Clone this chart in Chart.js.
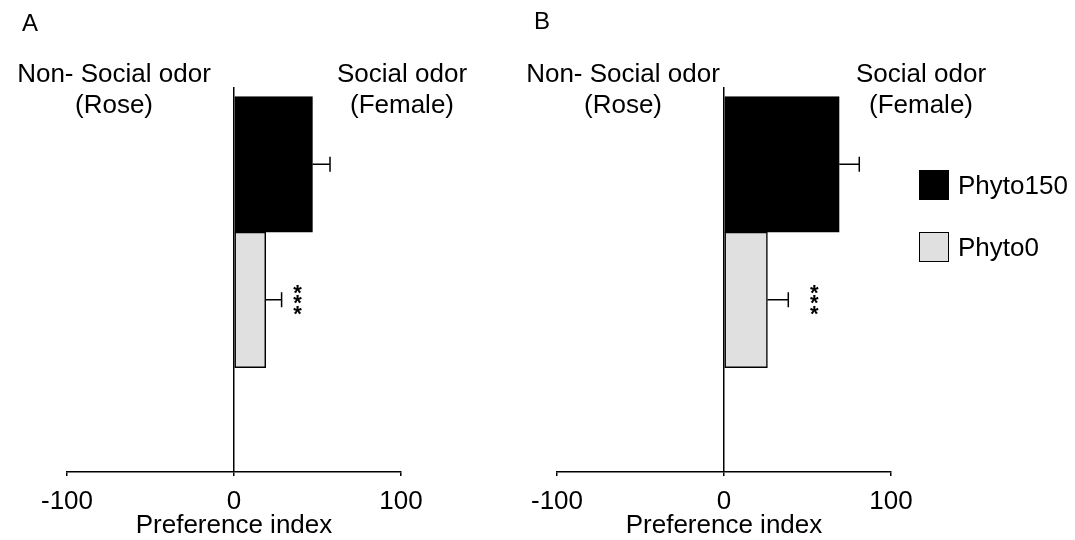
<!DOCTYPE html>
<html>
<head>
<meta charset="utf-8">
<script src="https://cdn.jsdelivr.net/npm/chart.js@4.4.1/dist/chart.umd.min.js"></script>
<style>
  html, body { margin: 0; padding: 0; background: #fff; }
  body { width: 1075px; height: 540px; position: relative; overflow: hidden;
         font-family: 'Liberation Sans', Arial, Helvetica, sans-serif; color: #000; }
  .box { position: absolute; top: 0; height: 540px; }
  .letter { position: absolute; font-size: 24px; line-height: 31px; }
  .head { position: absolute; font-size: 26px; line-height: 31px; text-align: center;
          white-space: nowrap; transform: translateX(-50%); }
  .item { position: absolute; left: 919px; height: 30px; display: flex; align-items: center; }
  .swatch { width: 30px; height: 30px; box-sizing: border-box; border: 1.5px solid #000; }
  .item span { font-size: 26px; margin-left: 9px; }
</style>
</head>
<body>
<div class="box" style="left:0;width:490px"><canvas id="chartA"></canvas></div>
<div class="box" style="left:490px;width:585px"><canvas id="chartB"></canvas></div>

<div class="letter" style="left:22px;top:7px">A</div>
<div class="letter" style="left:534px;top:5px">B</div>
<div class="head" style="left:114px;top:58px">Non- Social odor<br>(Rose)</div>
<div class="head" style="left:402px;top:58px">Social odor<br>(Female)</div>
<div class="head" style="left:623px;top:58px">Non- Social odor<br>(Rose)</div>
<div class="head" style="left:921px;top:58px">Social odor<br>(Female)</div>
<div id="legend"></div>

<script>
// values
const categories = ['Phyto150', 'Phyto0'];
const meansA = [47, 19];
const errorsA = [10.5, 9.5];
const meansB = [69, 26];
const errorsB = [12, 12.5];
const significance = ['', '***'];
const xTicks = [-100, 0, 100];
const barColors = ['#000000', '#e0e0e0'];

const FONT = "'Liberation Sans', Arial, Helvetica, sans-serif";
// vertical layout of the hidden bar axis (in bar heights)
const BAR_SHIFT = 0.57;
const Y_MAX = 2.84;

const errorBars = {
  id: 'errorBars',
  afterDatasetsDraw(chart, args, opts) {
    const ctx = chart.ctx;
    const x = chart.scales.x;
    const ds = chart.data.datasets[0];
    const meta = chart.getDatasetMeta(0);
    ctx.save();
    ctx.strokeStyle = '#000';
    ctx.lineWidth = 1.5;
    meta.data.forEach((bar, i) => {
      const end = x.getPixelForValue(ds.data[i].x + ds.errors[i]);
      const y = bar.y;
      ctx.beginPath();
      ctx.moveTo(bar.x, y);
      ctx.lineTo(end, y);
      ctx.moveTo(end, y - 7.5);
      ctx.lineTo(end, y + 7.5);
      ctx.stroke();
      const mark = ds.marks[i];
      if (mark) {
        ctx.fillStyle = '#000';
        ctx.font = 'bold 22px ' + FONT;
        ctx.textAlign = 'center';
        ctx.textBaseline = 'alphabetic';
        const m = ctx.measureText('*');
        const shift = (m.actualBoundingBoxAscent - m.actualBoundingBoxDescent) / 2;
        const n = mark.length;
        for (let k = 0; k < n; k++) {
          const cy = y + (k - (n - 1) / 2) * 10.5;
          ctx.fillText('*', end + opts.gap, cy + shift);
        }
      }
    });
    ctx.restore();
  }
};

function makeChart(id, means, errors, rightPad, gap) {
  return new Chart(document.getElementById(id), {
    type: 'bar',
    data: {
      datasets: [{
        data: means.map((v, i) => ({ x: v, y: i + BAR_SHIFT })),
        errors: errors,
        marks: significance,
        backgroundColor: barColors,
        borderColor: '#000',
        borderWidth: 1.5,
        borderSkipped: false,
        barPercentage: 1,
        categoryPercentage: 1,
        grouped: false
      }]
    },
    options: {
      indexAxis: 'y',
      responsive: true,
      maintainAspectRatio: false,
      animation: false,
      layout: { padding: { left: 67, right: rightPad, top: 87, bottom: 0 } },
      plugins: {
        legend: { display: false },
        tooltip: { enabled: false },
        errorBars: { gap: gap }
      },
      scales: {
        x: {
          type: 'linear',
          min: xTicks[0],
          max: xTicks[xTicks.length - 1],
          afterBuildTicks: s => { s.ticks = xTicks.map(v => ({ value: v })); },
          grid: {
            color: c => (c.tick && c.tick.value === 0) ? '#000' : 'rgba(0,0,0,0)',
            lineWidth: 1.5,
            tickColor: '#000',
            tickLength: 4
          },
          border: { color: '#000', width: 1.5 },
          ticks: {
            color: '#000', padding: 13, maxRotation: 0, autoSkip: false,
            font: { size: 26, family: FONT, lineHeight: 1 }
          },
          title: {
            display: true, text: 'Preference index', color: '#000',
            font: { size: 26, family: FONT, lineHeight: 1 },
            padding: { top: -15, bottom: 1 }
          }
        },
        y: {
          type: 'linear', reverse: true, offset: false, min: 0, max: Y_MAX, display: false,
          ticks: { stepSize: 10 }
        }
      }
    },
    plugins: [errorBars]
  });
}

makeChart('chartA', meansA, errorsA, 89, 16);
makeChart('chartB', meansB, errorsB, 184, 26);

const legend = document.getElementById('legend');
categories.forEach((name, i) => {
  const item = document.createElement('div');
  item.className = 'item';
  item.style.top = (170 + i * 62) + 'px';
  const sw = document.createElement('div');
  sw.className = 'swatch';
  sw.style.background = barColors[i];
  const label = document.createElement('span');
  label.textContent = name;
  item.appendChild(sw);
  item.appendChild(label);
  legend.appendChild(item);
});
</script>
</body>
</html>
